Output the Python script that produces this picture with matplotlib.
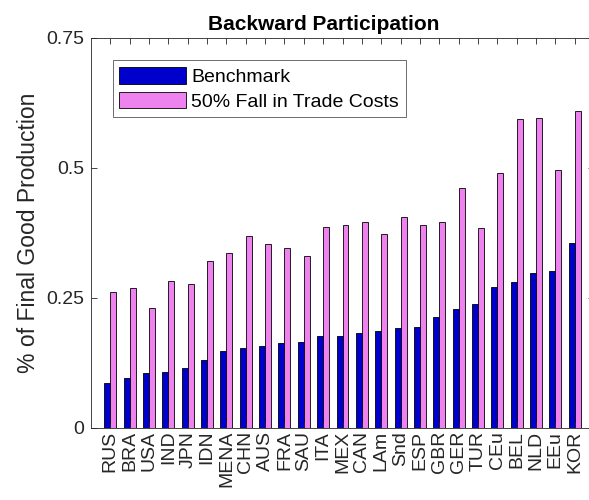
import numpy as np
import matplotlib.pyplot as plt

plt.rcParams['font.family'] = ['Liberation Sans', 'DejaVu Sans']

countries = ["RUS", "BRA", "USA", "IND", "JPN", "IDN", "MENA", "CHN", "AUS", "FRA",
             "SAU", "ITA", "MEX", "CAN", "LAm", "Snd", "ESP", "GBR", "GER", "TUR",
             "CEu", "BEL", "NLD", "EEu", "KOR"]
benchmark = [0.087, 0.097, 0.105, 0.107, 0.116, 0.131, 0.148, 0.153, 0.158, 0.163,
             0.165, 0.176, 0.176, 0.183, 0.186, 0.193, 0.194, 0.213, 0.229, 0.239,
             0.271, 0.280, 0.298, 0.301, 0.356]
fall50 = [0.262, 0.269, 0.231, 0.283, 0.276, 0.322, 0.336, 0.370, 0.354, 0.346,
          0.330, 0.386, 0.390, 0.396, 0.373, 0.405, 0.390, 0.397, 0.462, 0.384,
          0.490, 0.594, 0.596, 0.496, 0.610]

fig = plt.figure(figsize=(5.89, 5.0), dpi=100)
ax = fig.add_axes([91/589, 72/500, 503/589, 390/500])

x = np.arange(1, len(countries) + 1)
w = 0.31
ax.bar(x - w/2, benchmark, w, color='#0000CD', edgecolor='black', linewidth=0.6,
       label='Benchmark')
ax.bar(x + w/2, fall50, w, color='#EE82EE', edgecolor='black', linewidth=0.6,
       label='50% Fall in Trade Costs')

grey = '#262626'
ax.set_xlim(0, 26)
ax.set_ylim(0, 0.75)
ax.set_yticks([0, 0.25, 0.5, 0.75])
ax.set_yticklabels(['0', '0.25', '0.5', '0.75'], fontsize=14)
ax.set_xticks(x)
ax.set_xticklabels(countries, rotation=90, fontsize=14)
ax.tick_params(direction='in', top=True, right=True, length=4, width=0.6,
               colors=grey)
ax.tick_params(axis='x', pad=2)
ax.tick_params(axis='y', pad=5)
for s in ax.spines.values():
    s.set_linewidth(0.6)
    s.set_color(grey)

ax.set_ylabel('% of Final Good Production', fontsize=16.5, color=grey, labelpad=4)
ax.set_title('Backward Participation', fontsize=15, fontweight='bold', pad=6,
             x=0.463)

leg = ax.legend(loc='upper left', bbox_to_anchor=(0.043, 0.943), fontsize=14,
                fancybox=False, edgecolor='#555555', framealpha=1,
                handlelength=3.4, handleheight=0.95, borderpad=0.35,
                labelspacing=0.28, handletextpad=0.3, borderaxespad=0)
leg.get_frame().set_linewidth(0.6)
for t in leg.get_texts():
    t.set_color('black')

fig.savefig('out.png', dpi=100)
